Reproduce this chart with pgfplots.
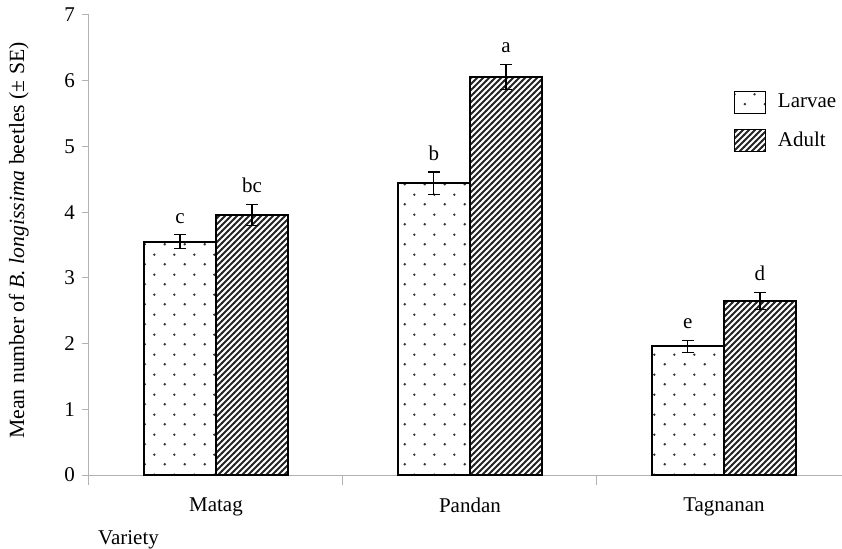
\documentclass[border=0pt]{standalone}
\usepackage{pgfplots}
\pgfplotsset{compat=1.18}
\usepackage{pgfplotstable}
\usepackage{fontspec}
\setmainfont{Liberation Serif}
\usetikzlibrary{patterns}

\pgfdeclarepatternformonly{sparsedots}{\pgfpointorigin}{\pgfpoint{20bp}{20bp}}{\pgfpoint{20bp}{20bp}}{%
  \pgfpathcircle{\pgfpoint{5bp}{5bp}}{1.4bp}%
  \pgfpathcircle{\pgfpoint{15bp}{15bp}}{1.4bp}%
  \pgfusepath{fill}}
\pgfdeclarepatternformonly{densehatch}{\pgfpoint{-1bp}{-1bp}}{\pgfpoint{7bp}{7bp}}{\pgfpoint{6bp}{6bp}}{%
  \pgfsetlinewidth{1.8bp}%
  \pgfpathmoveto{\pgfpoint{-0.5bp}{-0.5bp}}%
  \pgfpathlineto{\pgfpoint{6.5bp}{6.5bp}}%
  \pgfusepath{stroke}}

\pgfplotstableread{
x y err lab
0 3.55 0.107 c
1 4.44 0.17 b
2 1.96 0.09 e
}\larvae
\pgfplotstableread{
x y err lab
0 3.96 0.16 bc
1 6.06 0.19 a
2 2.65 0.13 d
}\adult

\begin{document}
\fontsize{21bp}{25bp}\selectfont
\begin{tikzpicture}
\begin{axis}[
  scale only axis,
  width=753bp, height=460bp,
  xmin=-0.5, xmax=2.465,
  ymin=0, ymax=7,
  axis x line*=bottom,
  axis y line*=left,
  axis line style={gray!60, line width=1bp},
  xtick={0,1,2},
  xticklabels={Matag,Pandan,Tagnanan},
  minor xtick={-0.5,0.5,1.5},
  x tick label style={yshift=-9bp},
  ytick={0,1,...,7},
  tick align=outside,
  major x tick style={draw=none},
  minor x tick style={gray!60, line width=1bp},
  minor tick length=10bp,
  major tick length=7bp,
  y tick style={gray!60, line width=1bp},
  /pgf/number format/assume math mode=true,
  tick label style={font=\fontsize{21bp}{25bp}\selectfont},
  label style={font=\fontsize{21bp}{25bp}\selectfont},
  ylabel={Mean number of \textit{B. longissima} beetles (± SE)},
  ylabel style={font=\fontsize{21.7bp}{25bp}\selectfont, at={(axis description cs:0,0.51)}, anchor=south, yshift=53bp},
  xlabel={Variety},
  xlabel style={at={(axis description cs:0,0)}, anchor=north west, yshift=-48bp, xshift=2bp},
  legend style={at={(axis description cs:0.856,0.836)}, anchor=north west, draw=none, fill=none,
    font=\fontsize{21bp}{25bp}\selectfont, row sep=15bp, inner sep=0pt,
    /tikz/every odd column/.append style={column sep=10bp}},
  legend cell align=left,
  legend image code/.code={\draw[#1, line width=1.2bp] (0bp,-11bp) rectangle (31bp,11bp);},
  clip=false,
]
\addplot[ybar, bar width=0.284, bar shift=0, draw=black, line width=1.8bp,
  pattern=sparsedots, pattern color=black!80,
  error bars/.cd, y dir=both, y explicit,
  error bar style={black, line width=1.2bp},
  error mark options={rotate=90, mark size=6bp, black, line width=1.2bp}]
  table[x expr=\thisrow{x}-0.142, y=y, y error=err] {\larvae};
\addlegendentry{Larvae}
\addplot[ybar, bar width=0.284, bar shift=0, draw=black, line width=1.8bp,
  pattern=densehatch, pattern color=black!85,
  error bars/.cd, y dir=both, y explicit,
  error bar style={black, line width=1.2bp},
  error mark options={rotate=90, mark size=6bp, black, line width=1.2bp}]
  table[x expr=\thisrow{x}+0.142, y=y, y error=err] {\adult};
\addlegendentry{Adult}
\addplot[only marks, mark=none, nodes near coords, point meta=explicit symbolic,
  every node near coord/.append style={anchor=south, yshift=4bp, font=\fontsize{21bp}{25bp}\selectfont}, forget plot]
  table[x expr=\thisrow{x}-0.142, y expr=\thisrow{y}+\thisrow{err}, meta=lab] {\larvae};
\addplot[only marks, mark=none, nodes near coords, point meta=explicit symbolic,
  every node near coord/.append style={anchor=south, yshift=4bp, font=\fontsize{21bp}{25bp}\selectfont}, forget plot]
  table[x expr=\thisrow{x}+0.142, y expr=\thisrow{y}+\thisrow{err}, meta=lab] {\adult};
\end{axis}
\pgfresetboundingbox
\useasboundingbox ([xshift=-89bp,yshift=-74bp]current axis.south west) rectangle ([yshift=15bp]current axis.north east);
\end{tikzpicture}
\end{document}
